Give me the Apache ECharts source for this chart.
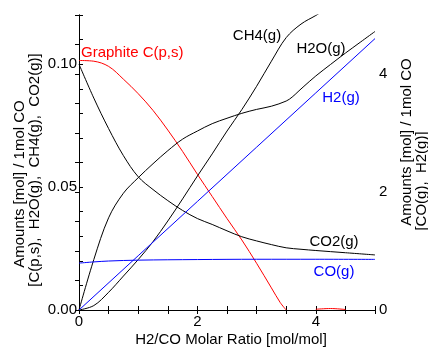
<!DOCTYPE html>
<html><head><meta charset="utf-8">
<script src="https://cdn.jsdelivr.net/npm/echarts@6/dist/echarts.min.js"></script>
<style>html,body{margin:0;padding:0;background:#fff}#c{width:428px;height:347px}</style>
</head><body><div id="c"></div>
<script>
// ---- data (x = H2/CO molar ratio) ----
const graphiteX = [0, 0.25, 0.5, 0.75, 1.0, 1.25, 1.5, 1.75, 2.0, 2.25, 2.5, 2.75, 3.0, 3.25, 3.4, 3.5];
const graphiteY = [0.1015, 0.1012, 0.0991, 0.0939, 0.0880, 0.0812, 0.0732, 0.0645, 0.0552, 0.0462, 0.0372, 0.0285, 0.0190, 0.0090, 0.0030, 0.0];
const graphiteTailX = [4.0, 4.25, 4.5];
const graphiteTailY = [0.0003, 0.0006, 0.0002];

const co2X = [0, 0.25, 0.5, 0.75, 1.0, 1.25, 1.5, 1.75, 2.0, 2.25, 2.5, 2.75, 3.0, 3.25, 3.5, 3.75, 4.0, 4.5, 5.0];
const co2Y = [0.1000, 0.0862, 0.0738, 0.0628, 0.0542, 0.0490, 0.0445, 0.0405, 0.0372, 0.0348, 0.0322, 0.0298, 0.0281, 0.0266, 0.0253, 0.0247, 0.0242, 0.0233, 0.0224];

const h2oX = [0, 0.25, 0.5, 0.75, 1.0, 1.25, 1.5, 1.75, 2.0, 2.25, 2.5, 2.75, 3.0, 3.25, 3.5, 3.6, 3.7, 3.8, 4.0, 4.25, 4.5, 4.75, 5.0];
const h2oY = [0, 0.0205, 0.0375, 0.0475, 0.0538, 0.0595, 0.0648, 0.0695, 0.0728, 0.0758, 0.0780, 0.0800, 0.0816, 0.0829, 0.0850, 0.0866, 0.0888, 0.0910, 0.0952, 0.0999, 0.1045, 0.1089, 0.1133];

const ch4X = [0, 0.25, 0.5, 0.75, 1.0, 1.25, 1.5, 1.75, 2.0, 2.25, 2.5, 2.75, 3.0, 3.25, 3.5, 3.75, 4.0, 4.25, 4.5];
const ch4Y = [0, 0.0018, 0.0072, 0.0138, 0.0205, 0.0278, 0.0362, 0.0452, 0.0545, 0.0635, 0.0728, 0.0815, 0.0910, 0.1012, 0.1108, 0.1163, 0.1198, 0.1235, 0.1270];

const h2X = [0, 1, 2, 3, 4, 5];
const h2Y = [0, 0.92, 1.84, 2.76, 3.68, 4.60];

const coX = [0, 0.25, 0.5, 1, 2, 3, 4, 5];
const coY = [0.795, 0.815, 0.830, 0.845, 0.855, 0.860, 0.860, 0.858];

const xTickLabels = [0, 2, 4];
const leftTickLabels = [0, 0.05, 0.10];
const rightTickLabels = [0, 2, 4];

// ---- build ----
const pairs = (xs, ys) => xs.map((x, i) => [x, ys[i]]);
const FONT = '"Liberation Sans", Arial, sans-serif';
const FS = 15;
const near = (v, arr) => arr.some(a => Math.abs(a - v) < 1e-6);

const axisCommon = {
  axisLine: {show: true, lineStyle: {color: '#000', width: 1}},
  axisTick: {show: true, inside: true, length: 4, lineStyle: {color: '#000', width: 1}},
  splitLine: {show: false}
};

const chart = echarts.init(document.getElementById('c'), null, {renderer: 'canvas'});
const lineBase = {type: 'line', showSymbol: false, symbol: 'none', smooth: 0.35, clip: true,
  lineStyle: {width: 1}, emphasis: {disabled: true}, animation: false};

const txt = (text, x, y, color, extra) => Object.assign({
  type: 'text', x: x, y: y, silent: true,
  style: {text: text, fill: color, fontSize: FS, fontFamily: FONT, align: 'center', verticalAlign: 'middle'}
}, extra || {});

chart.setOption({
  animation: false,
  backgroundColor: '#fff',
  grid: {left: 79, right: 53, top: 15, bottom: 37, containLabel: false},
  xAxis: [
    Object.assign({type: 'value', position: 'bottom', min: 0, max: 5, interval: 0.5,
      axisLabel: {show: true, margin: 4, color: '#000', fontSize: FS, fontFamily: FONT,
        formatter: v => near(v, xTickLabels) ? String(Math.round(v)) : ''}}, axisCommon),
    Object.assign({type: 'value', position: 'top', min: 0, max: 5, interval: 0.5,
      axisLabel: {show: false}}, axisCommon)
  ],
  yAxis: [
    Object.assign({type: 'value', position: 'left', min: 0, max: 0.12, interval: 0.01,
      axisLabel: {show: true, margin: 2, color: '#000', fontSize: FS, fontFamily: FONT,
        formatter: v => near(v, leftTickLabels) ? v.toFixed(2) : ''}}, axisCommon),
    Object.assign({type: 'value', position: 'right', min: 0, max: 5, interval: 0.5,
      axisLabel: {show: true, margin: 4, color: '#000', fontSize: FS, fontFamily: FONT,
        formatter: v => near(v, rightTickLabels) ? String(Math.round(v)) : ''}}, axisCommon)
  ],
  series: [
    Object.assign({}, lineBase, {name: 'Graphite C(p,s)', yAxisIndex: 0,
      data: pairs(graphiteX, graphiteY).concat([[3.75, '-']], pairs(graphiteTailX, graphiteTailY)),
      lineStyle: {width: 1, color: '#ff0000'}, itemStyle: {color: '#ff0000'}}),
    Object.assign({}, lineBase, {name: 'CO2(g)', yAxisIndex: 0, data: pairs(co2X, co2Y),
      lineStyle: {width: 1, color: '#000'}, itemStyle: {color: '#000'}}),
    Object.assign({}, lineBase, {name: 'H2O(g)', yAxisIndex: 0, data: pairs(h2oX, h2oY),
      lineStyle: {width: 1, color: '#000'}, itemStyle: {color: '#000'}}),
    Object.assign({}, lineBase, {name: 'CH4(g)', yAxisIndex: 0, data: pairs(ch4X, ch4Y),
      lineStyle: {width: 1, color: '#000'}, itemStyle: {color: '#000'}}),
    Object.assign({}, lineBase, {name: 'H2(g)', yAxisIndex: 1, data: pairs(h2X, h2Y), smooth: false,
      lineStyle: {width: 1, color: '#0000ff'}, itemStyle: {color: '#0000ff'}}),
    Object.assign({}, lineBase, {name: 'CO(g)', yAxisIndex: 1, data: pairs(coX, coY),
      lineStyle: {width: 1, color: '#0000ff'}, itemStyle: {color: '#0000ff'}})
  ],
  graphic: [
    txt('Graphite C(p,s)', 81, 53, '#ff0000', {style: {text: 'Graphite C(p,s)', fill: '#ff0000', fontSize: FS, fontFamily: FONT, align: 'left', verticalAlign: 'middle'}}),
    txt('CH4(g)', 257, 36, '#000'),
    txt('H2O(g)', 321, 49, '#000'),
    txt('H2(g)', 341, 98, '#0000ff'),
    txt('CO2(g)', 334, 242, '#000'),
    txt('CO(g)', 334, 272, '#0000ff'),
    txt('H2/CO Molar Ratio [mol/mol]', 231, 340, '#000'),
    txt('Amounts [mol] / 1mol CO', 20, 184, '#000', {rotation: Math.PI / 2}),
    txt('[C(p,s),  H2O(g),  CH4(g),  CO2(g)]', 35, 170, '#000', {rotation: Math.PI / 2}),
    txt('Amounts [mol] / 1mol CO', 407, 142, '#000', {rotation: Math.PI / 2}),
    txt('[CO(g),  H2(g)]', 422, 181, '#000', {rotation: Math.PI / 2})
  ]
});
</script>
</body></html>
